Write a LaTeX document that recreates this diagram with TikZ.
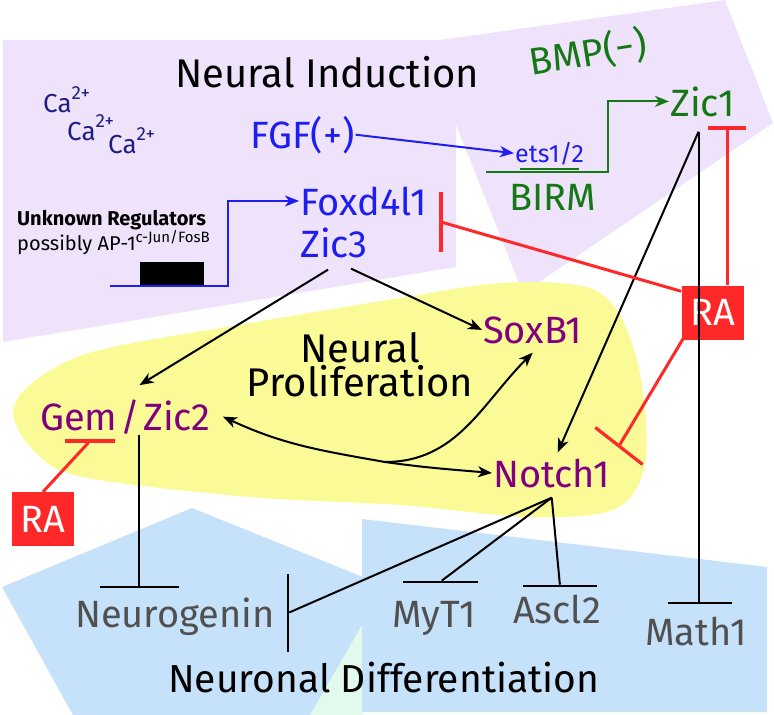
\documentclass[tikz,border=0pt]{standalone}
\usepackage{fontspec}
\setmainfont{Fira Sans}
\usetikzlibrary{positioning,arrows.meta}
\definecolor{lavend}{RGB}{239,227,251}
\definecolor{lemon}{RGB}{250,250,150}
\definecolor{skyb}{RGB}{198,225,250}
\definecolor{mint}{RGB}{226,250,238}
\definecolor{fgfblue}{RGB}{30,30,240}
\definecolor{canavy}{RGB}{30,30,130}
\definecolor{bmpgreen}{RGB}{20,120,20}
\definecolor{genepurple}{RGB}{128,0,128}
\definecolor{rared}{RGB}{255,40,40}
\definecolor{diffgray}{RGB}{80,80,80}
\newcommand{\ionsup}{\raisebox{13pt}{\fontsize{19}{19}\selectfont 2+}}

\begin{document}
\begin{tikzpicture}[x=1pt, y=-1pt,
txt/.style={inner sep=1pt, anchor=base west, font=\fontsize{38}{40}\selectfont},
region/.style={txt, text=black, font=\fontsize{40}{42}\selectfont},
fgfgene/.style={txt, text=fgfblue},
birmgene/.style={txt, text=bmpgreen},
progene/.style={txt, text=genepurple},
diffgene/.style={txt, text=diffgray},
ion/.style={txt, text=canavy, font=\fontsize{26}{28}\selectfont},
rabox/.style={fill=rared, text=white, inner sep=0pt, minimum width=62pt, minimum height=54pt, font=\fontsize{38}{40}\selectfont},
act/.style={-{Stealth[length=14pt, width=11pt, inset=4pt]}, line width=2pt},
inh/.style={line width=2pt},
rinh/.style={draw=rared, line width=3pt},
hbar/.style={fill=black, inner sep=0pt, minimum height=2.2pt, minimum width=#1},
vbar/.style={fill=black, inner sep=0pt, minimum width=2.2pt, minimum height=#1},
rbar/.style={fill=rared, inner sep=0pt, minimum height=3.2pt, minimum width=#1}]
\useasboundingbox (0,0) rectangle (774,715);

% regions
\fill[lavend] (3,40) -- (456,40) -- (456,267) -- (3,342) -- cycle;
\fill[lavend] (440,40) -- (725,0) -- (773,123) -- (523,293) -- (455,122) -- cycle;
\fill[lemon] plot[smooth cycle, tension=0.55] coordinates {(13,410) (40,377) (100,350) (250,323) (400,298) (490,284) (560,283) (600,293) (625,325) (642,385) (645,465) (615,509) (530,517) (400,505) (250,497) (83,477) (33,450)};
\fill[mint] (363,623) -- (310,715) -- (363,715) -- cycle;
\fill[skyb] (2,587) -- (192,508) -- (363,577) -- (363,623) -- (310,715) -- (73,715) -- cycle;
\fill[skyb] (362,519) -- (767,567) -- (767,712) -- (362,712) -- cycle;

% labels
\node[region] (induct) at (174,87) {Neural Induction};
\node[ion] (ca1) at (42,112) {Ca\ionsup};
\node[ion] (ca2) at (66,140) {Ca\ionsup};
\node[ion] (ca3) at (107,153) {Ca\ionsup};
\node[fgfgene] (fgf) at (249,148) {FGF(+)};
\node[fgfgene] (foxd) at (299,215) {Foxd4l1};
\node[fgfgene] (zic3) at (299,257) {Zic3};
\node[txt, font=\fontsize{20}{22}\selectfont\bfseries] (unk) at (16,225) {Unknown Regulators};
\node[txt, font=\fontsize{20}{22}\selectfont] (ap1) at (16,250) {possibly AP-1\raisebox{8pt}{\fontsize{15}{15}\selectfont c-Jun/FosB}};
\node[fill=black, inner sep=0pt, minimum width=64pt, minimum height=23pt] (box) at (172,273.5) {};
\coordinate (prom) at (110,286);

\node[fgfgene, font=\fontsize{25}{27}\selectfont] (ets) at (514,162) {ets1/2};
\node[birmgene, anchor=base] (birm) at (553,210) {BIRM};
\coordinate (birmline) at (486,172);
\node[birmgene, anchor=center, rotate=9] (bmp) at (588,53) {BMP(−)};
\node[birmgene] (zic1) at (669,116) {Zic1};
\node[rabox] (ra1) at (712.5,312.5) {RA};

\node[progene] (soxb1) at (482,343) {SoxB1};
\node[region, anchor=center, align=center, font=\fontsize{40}{34}\selectfont] (prolif) at (360,365) {Neural\\Proliferation};
\node[progene] (gem) at (39,430) {Gem\kern3pt/\kern3pt Zic2};
\node[progene] (notch) at (492,487) {Notch1};
\node[rabox] (ra2) at (43,519) {RA};

\node[diffgene] (ngn) at (74,627) {Neurogenin};
\node[diffgene] (myt) at (391,627) {MyT1};
\node[diffgene] (ascl) at (512,623) {Ascl2};
\node[diffgene] (math) at (644,645) {Math1};
\node[region, font=\fontsize{39}{41}\selectfont] (diff) at (167,692) {Neuronal Differentiation};

% bars
\node[rbar=60, rotate=90] (fbar) at (441,222) {};
\node[rbar=38] (z1bar) at (727,128) {};
\node[rbar=60, rotate=-38] (nbar) at (619,446) {};
\node[rbar=50] (gbar) at (90,441) {};
\node[hbar=79] (gdbar) at (139,587) {};
\node[vbar=78] (ngnbar) at (288,613) {};
\node[hbar=75] (mytbar) at (440,582) {};
\node[hbar=74] (asclbar) at (560,586) {};
\node[hbar=64] (mathbar) at (700,603) {};

\coordinate (J) at (385,462);
\coordinate (nb) at ([yshift=-9pt]notch.south);
\coordinate (zs) at ([xshift=-4pt,yshift=-14pt]zic1.south);

% induction
\draw[act, fgfblue] (prom) -- ++(118,0) |- (foxd.west);
\draw[act, fgfblue] (fgf.east) -- (ets.west);
\draw[act, bmpgreen] (birmline) -- ++(122,0) |- (zic1.west);
\draw[bmpgreen, line width=2pt] ([xshift=6pt,yshift=-3pt]ets.south west) -- ([xshift=-6pt,yshift=-3pt]ets.south east);

% proliferation
\draw[act] ([xshift=-6pt,yshift=-11pt]zic3.south) -- ([xshift=14pt,yshift=13pt]gem.north);
\draw[act] ([xshift=17pt,yshift=-10pt]zic3.south) -- (soxb1.west);
\draw[act] (J) to[out=170, in=-25] ([xshift=11pt]gem.east);
\draw[act] (J) to[out=0, in=-135] ([yshift=-8pt]soxb1.south);
\draw[act] (J) to[out=-8, in=175] (notch.west);
\draw[act] (zs) -- ([xshift=6pt,yshift=5pt]notch.north);

% retinoic acid
\draw[rinh] ([yshift=-6pt]ra1.north west) -- (fbar);
\draw[rinh] (ra1.north -| z1bar) -- (z1bar);
\draw[rinh] ([xshift=3pt,yshift=3pt]ra1.south west) -- (nbar);
\draw[rinh] (ra2.north) -- (gbar);

% differentiation
\draw[inh] (gdbar |- gem.south) -- (gdbar);
\draw[inh] (nb) -- (ngnbar);
\draw[inh] (nb) -- (mytbar);
\draw[inh] (nb) -- (asclbar);
\draw[inh] (zs) -- (zs |- mathbar);
\end{tikzpicture}
\end{document}
